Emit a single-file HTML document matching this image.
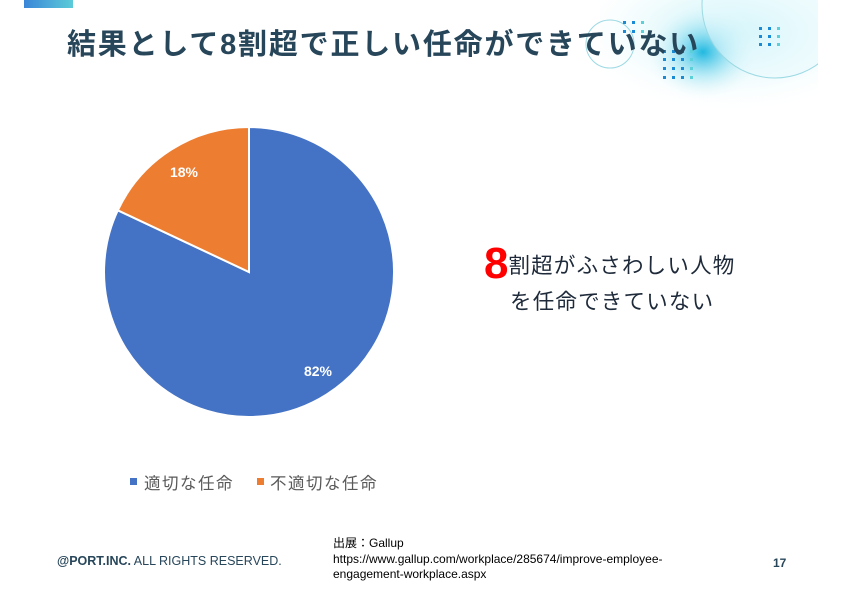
<!DOCTYPE html>
<html><head><meta charset="utf-8"><style>
body{margin:0;width:841px;height:595px;overflow:hidden;background:#fff;position:relative;font-family:"Liberation Sans","Noto Sans CJK JP",sans-serif}
.a{position:absolute;white-space:nowrap}
</style></head><body>
<svg class="a" style="left:0;top:0" width="841" height="595">
<defs>
<radialGradient id="g1" cx="0.5" cy="0.5" r="0.5"><stop offset="0" stop-color="#1fb8e0"/><stop offset="0.5" stop-color="#9fe3f3" stop-opacity="0.6"/><stop offset="1" stop-color="#fff" stop-opacity="0"/></radialGradient>
<radialGradient id="g2" cx="0.6" cy="0.3" r="0.7"><stop offset="0" stop-color="#8fe6f0"/><stop offset="1" stop-color="#e8f9fc" stop-opacity="0"/></radialGradient>
<linearGradient id="bar" x1="0" x2="1"><stop offset="0" stop-color="#3a86d8"/><stop offset="1" stop-color="#5ccbd8"/></linearGradient>
</defs>
<rect x="600" y="0" width="218" height="110" fill="url(#g2)" opacity="0.6"/>
<ellipse cx="703" cy="52" rx="60" ry="50" fill="url(#g1)"/>
<circle cx="775" cy="5" r="73" fill="#e8fafd" fill-opacity="0.5" stroke="#9cd9e3" stroke-width="1"/>
<circle cx="610" cy="44" r="24" fill="none" stroke="#9cd9e3" stroke-width="1"/>
<rect x="818" y="0" width="23" height="110" fill="#fff"/>
<rect x="24" y="0" width="49" height="8" fill="url(#bar)"/>
<g fill="#1a8ad4">
<rect x="623" y="21" width="3" height="3"/><rect x="632" y="21" width="3" height="3"/><rect x="641" y="21" width="3" height="3" fill="#5cd0d8"/>
<rect x="623" y="30" width="3" height="3"/><rect x="632" y="30" width="3" height="3"/><rect x="641" y="30" width="3" height="3" fill="#5cd0d8"/>
<rect x="663" y="50" width="3" height="3"/><rect x="672" y="50" width="3" height="3"/><rect x="681" y="50" width="3" height="3"/><rect x="690" y="50" width="3" height="3" fill="#5cd0d8"/>
<rect x="663" y="58" width="3" height="3"/><rect x="672" y="58" width="3" height="3"/><rect x="681" y="58" width="3" height="3"/><rect x="690" y="58" width="3" height="3" fill="#5cd0d8"/>
<rect x="663" y="67" width="3" height="3"/><rect x="672" y="67" width="3" height="3"/><rect x="681" y="67" width="3" height="3"/><rect x="690" y="67" width="3" height="3" fill="#5cd0d8"/>
<rect x="663" y="76" width="3" height="3"/><rect x="672" y="76" width="3" height="3"/><rect x="681" y="76" width="3" height="3"/><rect x="690" y="76" width="3" height="3" fill="#5cd0d8"/>
<rect x="759" y="27" width="3" height="3"/><rect x="768" y="27" width="3" height="3"/><rect x="777" y="27" width="3" height="3" fill="#5cd0d8"/>
<rect x="759" y="35" width="3" height="3"/><rect x="768" y="35" width="3" height="3"/><rect x="777" y="35" width="3" height="3" fill="#5cd0d8"/>
<rect x="759" y="43" width="3" height="3"/><rect x="768" y="43" width="3" height="3"/><rect x="777" y="43" width="3" height="3" fill="#5cd0d8"/>
</g>
<path d="M249,272 L249,127 A145,145 0 1 1 117.8,210.3 Z" fill="#4472c4" stroke="#fff" stroke-width="2"/>
<path d="M249,272 L117.8,210.3 A145,145 0 0 1 249,127 Z" fill="#ed7d31" stroke="#fff" stroke-width="2"/>
<text x="184" y="177" font-size="14" font-weight="bold" fill="#fff" text-anchor="middle">18%</text>
<text x="318" y="376" font-size="14" font-weight="bold" fill="#fff" text-anchor="middle">82%</text>
<rect x="130" y="478" width="7" height="7" fill="#4472c4"/>
<rect x="257" y="478" width="7" height="7" fill="#ed7d31"/>
</svg>
<div class="a" style="left:67px;top:21px;font-size:29px;font-weight:bold;color:#27465a;letter-spacing:1.8px">結果として8割超で正しい任命ができていない</div>
<div class="a" style="left:144px;top:470px;font-size:16.5px;color:#595959;letter-spacing:1.5px">適切な任命</div>
<div class="a" style="left:270px;top:470px;font-size:16.5px;color:#595959;letter-spacing:1.5px">不適切な任命</div>
<div class="a" style="left:484px;top:246px;font-size:21.5px;color:#1e2a3a;line-height:36px;letter-spacing:1.2px"><span style="color:#f00;font-size:44px;font-weight:bold;vertical-align:-5px;letter-spacing:0">8</span>割超がふさわしい人物<br><span style="padding-left:26px">を任命できていない</span></div>
<div class="a" style="left:57px;top:554px;font-size:12.5px;color:#27465a"><b>@PORT.INC.</b> ALL RIGHTS RESERVED.</div>
<div class="a" style="left:333px;top:536px;font-size:12px;line-height:15.5px;color:#000">出展：Gallup<br>https://www.gallup.com/workplace/285674/improve-employee-<br>engagement-workplace.aspx</div>
<div class="a" style="left:773px;top:556px;font-size:12px;font-weight:bold;color:#27465a">17</div>
</body></html>
